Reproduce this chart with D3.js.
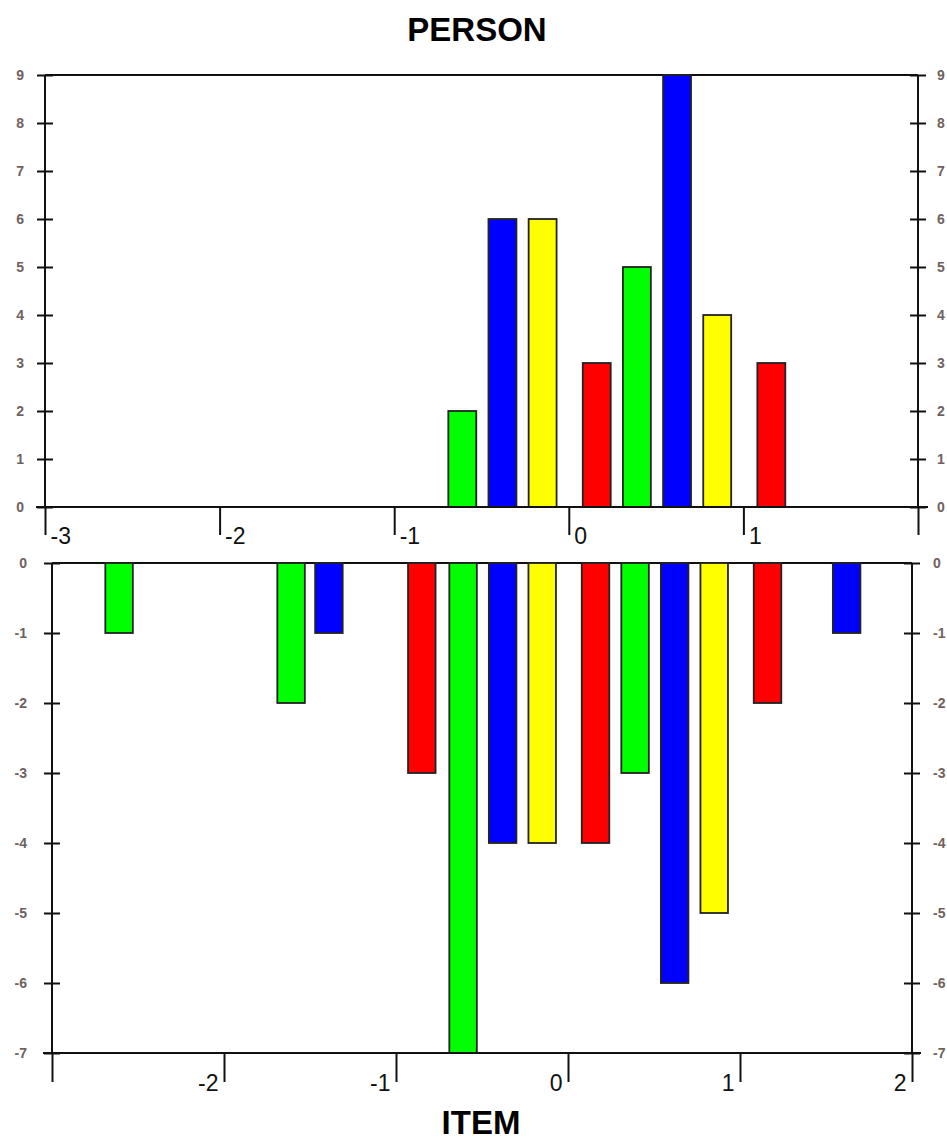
<!DOCTYPE html>
<html>
<head>
<meta charset="utf-8">
<script src="https://cdn.jsdelivr.net/npm/d3@7"></script>
<style>
  body { margin: 0; background: #fff; }
  svg { display: block; font-family: Arial, "Liberation Sans", sans-serif; }
</style>
</head>
<body>
<script>
(function() {
  'use strict';

  // bin centres (logit scale) shared by both panels
  const personPos = [-0.61, -0.38, -0.15, 0.16, 0.39, 0.62, 0.85, 1.16];
  const personCount = [2, 6, 6, 3, 5, 9, 4, 3];
  const personColor = ['#00ff00', '#0000ff', '#ffff00', '#ff0000', '#00ff00', '#0000ff', '#ffff00', '#ff0000'];

  const itemPos = [-2.61, -1.61, -1.39, -0.85, -0.61, -0.38, -0.15, 0.16, 0.39, 0.62, 0.85, 1.16, 1.62];
  const itemCount = [-1, -2, -1, -3, -7, -4, -4, -4, -3, -6, -5, -2, -1];
  const itemColor = ['#00ff00', '#00ff00', '#0000ff', '#ff0000', '#00ff00', '#0000ff', '#ffff00', '#ff0000', '#00ff00', '#0000ff', '#ffff00', '#ff0000', '#0000ff'];

  const xTicks = [-3, -2, -1, 0, 1, 2];
  const personTicks = [0, 1, 2, 3, 4, 5, 6, 7, 8, 9];
  const itemTicks = [0, -1, -2, -3, -4, -5, -6, -7];

  const w = 947;
  const h = 1137;
  const barHalf = 0.08;

  // plain hyphen for negatives, like the original
  const fmt = (d) => String(d);

  const svg = d3.select('body').append('svg')
    .attr('width', w)
    .attr('height', h);

  svg.append('rect').attr('width', w).attr('height', h).attr('fill', '#fff');

  // scales
  const xTop = d3.scaleLinear().domain([-3, 2]).range([45, 918]);
  const yTop = d3.scaleLinear().domain([0, 9]).range([507, 75]);
  const xBot = d3.scaleLinear().domain([-3, 2]).range([52, 912]);
  const yBot = d3.scaleLinear().domain([-7, 0]).range([1053, 563]);

  const axisColor = '#111';
  const lw = 2;

  function styleY(g, side, labelOff) {
    g.select('.domain').remove();
    g.selectAll('.tick line')
      .attr('x1', -8).attr('x2', 8)
      .attr('stroke', axisColor).attr('stroke-width', lw);
    g.selectAll('.tick text')
      .attr('x', labelOff)
      .attr('text-anchor', side === 'left' ? 'end' : 'start')
      .attr('fill', '#6e6260')
      .attr('font-size', 14)
      .attr('font-weight', 'bold');
  }

  // ---------- top panel (PERSON) ----------
  const top = svg.append('g');

  top.append('line')
    .attr('x1', xTop(-3)).attr('x2', xTop(2))
    .attr('y1', yTop(9)).attr('y2', yTop(9))
    .attr('stroke', axisColor).attr('stroke-width', lw);

  top.selectAll('rect.person')
    .data(personPos)
    .enter().append('rect')
    .attr('class', 'person')
    .attr('x', (d) => xTop(d - barHalf))
    .attr('width', (d) => xTop(d + barHalf) - xTop(d - barHalf))
    .attr('y', (d, i) => yTop(personCount[i]))
    .attr('height', (d, i) => yTop(0) - yTop(personCount[i]))
    .attr('fill', (d, i) => personColor[i])
    .attr('stroke', '#222')
    .attr('stroke-width', 1.8);

  // side axes
  top.append('line')
    .attr('x1', xTop(-3)).attr('x2', xTop(-3))
    .attr('y1', yTop(9)).attr('y2', yTop(0))
    .attr('stroke', axisColor).attr('stroke-width', lw);
  top.append('line')
    .attr('x1', xTop(2)).attr('x2', xTop(2))
    .attr('y1', yTop(9)).attr('y2', yTop(0))
    .attr('stroke', axisColor).attr('stroke-width', lw);

  top.append('g')
    .attr('transform', 'translate(' + xTop(-3) + ',0)')
    .call(d3.axisLeft(yTop).tickValues(personTicks).tickFormat(fmt))
    .call((g) => styleY(g, 'left', -21));
  top.append('g')
    .attr('transform', 'translate(' + xTop(2) + ',0)')
    .call(d3.axisRight(yTop).tickValues(personTicks).tickFormat(fmt))
    .call((g) => styleY(g, 'right', 19));

  // x axis of the top panel
  const xAxisTop = top.append('g')
    .attr('transform', 'translate(0,' + yTop(0) + ')')
    .call(d3.axisBottom(xTop).tickValues(xTicks).tickSize(28)
      .tickFormat((d) => (d === 2 ? '' : fmt(d))));
  xAxisTop.select('.domain').remove();
  xAxisTop.selectAll('.tick line').attr('stroke', axisColor).attr('stroke-width', lw);
  xAxisTop.selectAll('.tick text')
    .attr('x', 5).attr('y', 37).attr('dy', 0)
    .attr('text-anchor', 'start')
    .attr('fill', '#111')
    .attr('font-size', 23);
  top.append('line')
    .attr('x1', xTop.range()[0] - 9).attr('x2', xTop.range()[1] + 10)
    .attr('y1', yTop(0)).attr('y2', yTop(0))
    .attr('stroke', axisColor).attr('stroke-width', lw);

  // ---------- bottom panel (ITEM) ----------
  const bot = svg.append('g');

  bot.append('line')
    .attr('x1', xBot(-3)).attr('x2', xBot(2))
    .attr('y1', yBot(0)).attr('y2', yBot(0))
    .attr('stroke', axisColor).attr('stroke-width', lw);

  bot.selectAll('rect.item')
    .data(itemPos)
    .enter().append('rect')
    .attr('class', 'item')
    .attr('x', (d) => xBot(d - barHalf))
    .attr('width', (d) => xBot(d + barHalf) - xBot(d - barHalf))
    .attr('y', yBot(0))
    .attr('height', (d, i) => yBot(itemCount[i]) - yBot(0))
    .attr('fill', (d, i) => itemColor[i])
    .attr('stroke', '#222')
    .attr('stroke-width', 1.8);

  bot.append('line')
    .attr('x1', xBot(-3)).attr('x2', xBot(-3))
    .attr('y1', yBot(0)).attr('y2', yBot(-7))
    .attr('stroke', axisColor).attr('stroke-width', lw);
  bot.append('line')
    .attr('x1', xBot(2)).attr('x2', xBot(2))
    .attr('y1', yBot(0)).attr('y2', yBot(-7))
    .attr('stroke', axisColor).attr('stroke-width', lw);

  bot.append('g')
    .attr('transform', 'translate(' + xBot(-3) + ',0)')
    .call(d3.axisLeft(yBot).tickValues(itemTicks).tickFormat(fmt))
    .call((g) => styleY(g, 'left', -25));
  bot.append('g')
    .attr('transform', 'translate(' + xBot(2) + ',0)')
    .call(d3.axisRight(yBot).tickValues(itemTicks).tickFormat(fmt))
    .call((g) => styleY(g, 'right', 21));

  const xAxisBot = bot.append('g')
    .attr('transform', 'translate(0,' + yBot(-7) + ')')
    .call(d3.axisBottom(xBot).tickValues(xTicks).tickSize(29)
      .tickFormat((d) => (d === -3 ? '' : fmt(d))));
  xAxisBot.select('.domain').remove();
  xAxisBot.selectAll('.tick line').attr('stroke', axisColor).attr('stroke-width', lw);
  xAxisBot.selectAll('.tick text')
    .attr('x', -6).attr('y', 38).attr('dy', 0)
    .attr('text-anchor', 'end')
    .attr('fill', '#111')
    .attr('font-size', 23);
  bot.append('line')
    .attr('x1', xBot.range()[0] - 9).attr('x2', xBot.range()[1] + 9)
    .attr('y1', yBot(-7)).attr('y2', yBot(-7))
    .attr('stroke', axisColor).attr('stroke-width', lw);

  // titles
  svg.append('text')
    .attr('x', 477).attr('y', 41)
    .attr('text-anchor', 'middle')
    .attr('font-size', 33).attr('font-weight', 'bold')
    .attr('fill', '#000')
    .text('PERSON');
  svg.append('text')
    .attr('x', 481).attr('y', 1134)
    .attr('text-anchor', 'middle')
    .attr('font-size', 33).attr('font-weight', 'bold')
    .attr('fill', '#000')
    .text('ITEM');
}());
</script>
</body>
</html>
